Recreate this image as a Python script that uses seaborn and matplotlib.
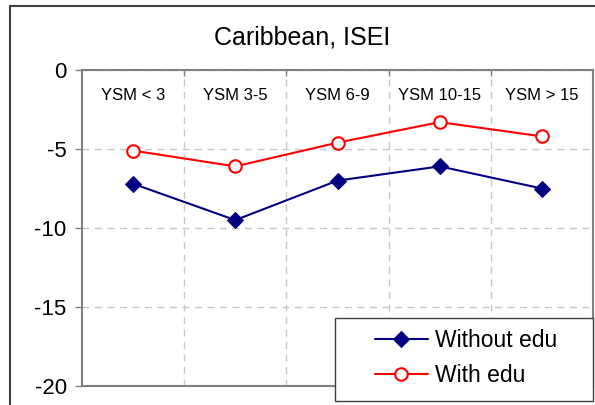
import matplotlib
matplotlib.use("Agg")
import matplotlib.pyplot as plt
import seaborn as sns
import pandas as pd
from matplotlib.patches import Rectangle
from matplotlib.transforms import blended_transform_factory

categories = ["YSM < 3", "YSM 3-5", "YSM 6-9", "YSM 10-15", "YSM > 15"]
without_edu = [-7.2, -9.5, -7.0, -6.1, -7.5]
with_edu = [-5.1, -6.1, -4.6, -3.3, -4.2]
yticks = [0, -5, -10, -15, -20]

sns.set_theme(style="white")
plt.rcParams['font.family'] = ['Liberation Sans', 'DejaVu Sans']
plt.rcParams['text.color'] = 'black'
plt.rcParams['ytick.labelcolor'] = 'black'

W, H = 595, 405
fig = plt.figure(figsize=(W/100, H/100), dpi=100)
ax = fig.add_axes([82/W, 1-386/H, (593-82)/W, (386-70)/H])

x = list(range(len(categories)))
df1 = pd.DataFrame({"x": x, "y": without_edu})
df2 = pd.DataFrame({"x": x, "y": with_edu})
sns.lineplot(data=df1, x="x", y="y", ax=ax, color="#000080", marker="D",
             markersize=8.5, markeredgecolor="#000080", linewidth=1.5, label="Without edu")
sns.lineplot(data=df2, x="x", y="y", ax=ax, color="#ff0000", marker="o",
             markersize=9, markerfacecolor="white", markeredgecolor="#ff0000",
             markeredgewidth=1.5, linewidth=1.5, label="With edu")

ax.set_xlim(-0.5, len(categories)-0.5)
ax.set_ylim(-20, 0)
ax.set_yticks(yticks)
ax.set_yticklabels([str(v) for v in yticks], fontsize=16, color="black")
ax.set_xlabel("")
ax.set_ylabel("")

bounds = [i + 0.5 for i in range(len(categories)-1)]
ax.set_xticks(bounds)
ax.set_xticklabels([])
ax.xaxis.tick_top()
ax.tick_params(axis="x", direction="in", length=4, color="#808080", width=1)
ax.tick_params(axis="y", direction="out", length=5, color="#808080", width=1, pad=6, left=True)
ax.grid(True, axis="both", color="#c8c8c8", linestyle=(0, (5, 4)), linewidth=1)

for s in ax.spines.values():
    s.set_visible(True)
    s.set_color("#808080")
    s.set_linewidth(1.5)

trans = blended_transform_factory(ax.transData, ax.transAxes)
for i, c in enumerate(categories):
    ax.text(i, 1 - 26/316, c, transform=trans, ha="center", va="center", fontsize=12)

fig.text(302/W, 1-38/H, "Caribbean, ISEI", ha="center", va="center", fontsize=18)

# outer chart border
fig.add_artist(Rectangle((10/W, -0.1), 1.2, (405-6)/H + 0.1, transform=fig.transFigure,
                         fill=False, edgecolor="#404040", linewidth=1.5))

# legend box + legend
handles, labels = ax.get_legend_handles_labels()
ax.get_legend().remove()
fig.add_artist(Rectangle((335/W, 1-401/H), (593-335)/W, 83/H, transform=fig.transFigure,
                         facecolor="white", edgecolor="#404040", linewidth=1, zorder=4))
leg = fig.legend(handles, labels, loc="center", bbox_to_anchor=(466/W, 1-358/H),
                 bbox_transform=fig.transFigure, fontsize=16.5,
                 frameon=False, handlelength=2.3, borderpad=0.2,
                 labelspacing=0.55, handletextpad=0.3, borderaxespad=0)
leg.set_zorder(5)
for t in leg.get_texts():
    t.set_color("black")

fig.savefig("out.png", dpi=100)
